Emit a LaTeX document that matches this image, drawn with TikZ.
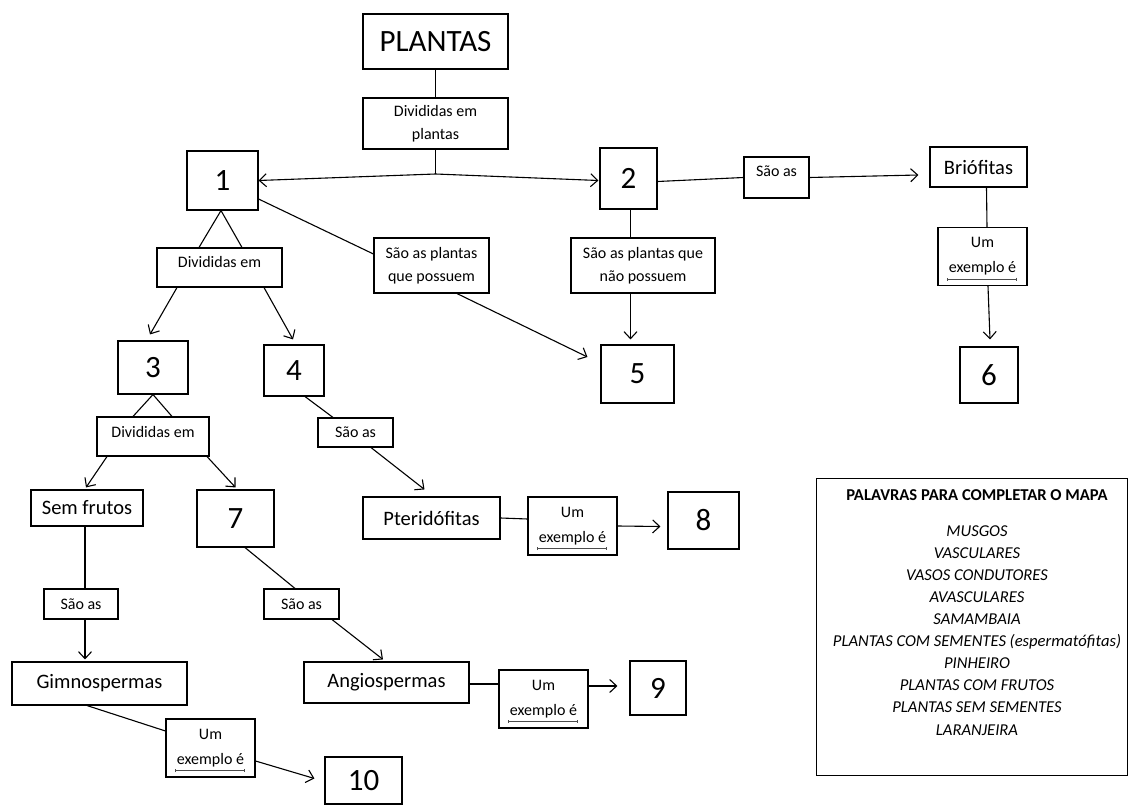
\documentclass[tikz,border=0pt]{standalone}
\usepackage{fontspec}
\setmainfont{Carlito}
\usetikzlibrary{arrows.meta}
\begin{document}
\begin{tikzpicture}[x=1pt,y=-1pt,
  box/.style={draw, line width=1.1pt, inner sep=0pt, align=center},
  big/.style={font=\fontsize{31}{31}\selectfont},
  mid/.style={font=\fontsize{20.5}{24}\selectfont},
  small/.style={font=\fontsize{16}{23}\selectfont},
  exbox/.style={box, minimum width=89pt, minimum height=58pt, font=\fontsize{16}{25}\selectfont},
  conn/.style={line width=1.1pt},
  arr/.style={conn, -{Straight Barb[length=7pt,width=13pt,line width=1.1pt]}},
  ul/.style={line width=0.6pt, black!70, {Bar[width=3pt]}-{Bar[width=3pt]}}]
\fill[white] (0,0) rectangle (1128,805);
\useasboundingbox (0,0) rectangle (1128,805);

% nodes
\node[box,big,minimum width=145pt,minimum height=55pt] (plantas) at (435.5,41.5) {PLANTAS};
\node[box,small,minimum width=145pt,minimum height=51pt] (div0) at (435.5,123.5) {Divididas em\\plantas};
\node[box,big,minimum width=71pt,minimum height=59pt] (n1) at (222.5,180.5) {1};
\node[box,big,minimum width=57pt,minimum height=61pt] (n2) at (628.5,178.5) {2};
\node[box,small,minimum width=65pt,text height=20pt,text depth=21pt] (sao2) at (776.5,177.5) {São as};
\node[box,mid,minimum width=97pt,minimum height=40pt] (brio) at (978.5,167) {Briófitas};
\node[exbox] (ex6) at (982.5,256.5) {Um\\exemplo é};
\node[box,big,minimum width=58pt,minimum height=56pt] (n6) at (989,375) {6};
\node[box,small,minimum width=144pt,minimum height=55pt] (naopos) at (643,265.5) {São as plantas que\\não possuem};
\node[box,big,minimum width=73pt,minimum height=58pt] (n5) at (637.5,374) {5};
\node[box,small,minimum width=115pt,minimum height=55pt] (possuem) at (431.5,265.5) {São as plantas\\que possuem};
\node[box,small,minimum width=125pt,text height=20pt,text depth=19pt] (div1) at (219.5,267.5) {Divididas em};
\node[box,big,minimum width=70pt,minimum height=53pt] (n3) at (153,367.5) {3};
\node[box,big,minimum width=60pt,minimum height=51pt] (n4) at (294,370.5) {4};
\node[box,small,minimum width=112pt,text height=20pt,text depth=19pt] (div2) at (153,436.5) {Divididas em};
\node[box,small,minimum width=75pt,minimum height=29pt] (sao4) at (355.5,432.5) {São as};
\node[box,mid,minimum width=112pt,minimum height=36pt] (semf) at (87,508) {Sem frutos};
\node[box,big,minimum width=77pt,minimum height=57pt] (n7) at (235.5,518.5) {7};
\node[box,mid,minimum width=137pt,minimum height=42pt] (pter) at (431.5,518) {Pteridófitas};
\node[exbox] (ex8) at (572.5,526) {Um\\exemplo é};
\node[box,big,minimum width=71pt,minimum height=57pt] (n8) at (703.5,520.5) {8};
\node[box,small,minimum width=74pt,minimum height=30pt] (saoL) at (81,604) {São as};
\node[box,small,minimum width=75pt,minimum height=30pt] (saoM) at (301.5,604) {São as};
\node[box,mid,minimum width=175pt,minimum height=43pt] (gimno) at (99.5,683.5) {Gimnospermas};
\node[box,mid,minimum width=165pt,minimum height=41pt] (angio) at (386.5,682.5) {Angiospermas};
\node[exbox] (ex9) at (543.5,699) {Um\\exemplo é};
\node[box,big,minimum width=56pt,minimum height=54pt] (n9) at (658,688) {9};
\node[exbox] (ex10) at (210.5,748) {Um\\exemplo é};
\node[box,big,minimum width=77pt,minimum height=47pt] (n10) at (363.5,780.5) {10};

% underlines in "Um exemplo é" boxes
\foreach \e in {ex6,ex8,ex9,ex10}{
  \draw[ul] ([xshift=10pt,yshift=7pt]\e.south west) -- ([xshift=-11pt,yshift=7pt]\e.south east);
}

% legend
\node[box,minimum width=311pt,minimum height=297pt,anchor=north west] (legend) at (816,478) {};
\node[anchor=north,align=center,inner sep=0pt,font=\fontsize{16.6}{22.1}\selectfont] (legtext) at (977,489)
 {\textbf{PALAVRAS PARA COMPLETAR O MAPA}\\[14pt]
  \textit{MUSGOS}\\ \textit{VASCULARES}\\ \textit{VASOS CONDUTORES}\\ \textit{AVASCULARES}\\
  \textit{SAMAMBAIA}\\ \textit{PLANTAS COM SEMENTES (espermatófitas)}\\ \textit{PINHEIRO}\\
  \textit{PLANTAS COM FRUTOS}\\ \textit{PLANTAS SEM SEMENTES}\\ \textit{LARANJEIRA}};

% connectors
\coordinate (J) at (435.5,174);
\draw[conn] (plantas.south) -- (div0.north);
\draw[conn] (div0.south) -- (J);
\draw[arr] (J) -- (n1.east);
\draw[arr] (J) -- ([xshift=-1pt,yshift=-2pt]n2.west);
\draw[conn] ([yshift=-3pt]n2.east) -- (sao2.west);
\draw[arr] (sao2.east) -- ([xshift=-11pt,yshift=-8pt]brio.west);
\draw[conn] ([xshift=8pt]brio.south) -- ([xshift=4.5pt]ex6.north);
\draw[arr] ([xshift=5.5pt]ex6.south) -- ([xshift=1pt,yshift=7pt]n6.north);
\draw[conn] ([xshift=2pt]n2.south) -- ([xshift=2pt]n2.south |- naopos.north);
\draw[arr] ([xshift=2pt]n2.south |- naopos.south) -- ([xshift=2pt,yshift=5pt]n2.south |- n5.north);
\draw[conn] ([yshift=-18.5pt]n1.east) -- ([yshift=11.5pt]possuem.west);
\draw[arr] ([xshift=25.5pt]possuem.south) -- ([xshift=-13pt,yshift=17pt]n5.west);
\draw[conn] ([xshift=-1.5pt]n1.south) -- ([xshift=-20.5pt]div1.north);
\draw[conn] ([xshift=-1.5pt]n1.south) -- ([xshift=22.5pt]div1.north);
\draw[arr] ([xshift=-42.5pt]div1.south) -- ([xshift=-3pt,yshift=6pt]n3.north);
\draw[arr] ([xshift=44.5pt]div1.south) -- ([xshift=-1pt,yshift=5pt]n4.north);
\draw[conn] (n3.south) -- ([xshift=-20pt]div2.north);
\draw[conn] (n3.south) -- ([xshift=19pt]div2.north);
\draw[arr] ([xshift=-46pt]div2.south) -- ([xshift=-1pt,yshift=2pt]semf.north);
\draw[arr] ([xshift=54pt]div2.south) -- ([yshift=2pt]n7.north);
\draw[conn] ([xshift=11pt]n4.south) -- ([xshift=-22.5pt]sao4.north);
\draw[arr] ([xshift=15.5pt]sao4.south) -- ([xshift=-7pt,yshift=7pt]pter.north);
\draw[conn] (pter.east) -- ([yshift=7pt]ex8.west);
\draw[arr] (ex8.east) -- ([xshift=-7pt,yshift=-6pt]n8.west);
\draw[conn] ([xshift=-2pt]semf.south) -- ([xshift=-2pt]semf.south |- saoL.north);
\draw[arr] ([xshift=-2pt]semf.south |- saoL.south) -- ([xshift=-2pt,yshift=2pt]semf.south |- gimno.north);
\draw[conn] ([xshift=9.5pt]n7.south) -- ([xshift=-6.5pt]saoM.north);
\draw[arr] ([xshift=30.5pt]saoM.south) -- ([xshift=-3.5pt,yshift=2pt]angio.north);
\draw[conn] ([yshift=-1.5pt]angio.east) -- ([yshift=15pt]ex9.west);
\draw[arr] ([yshift=13pt]ex9.east) -- ([xshift=-12pt,yshift=2pt]n9.west);
\draw[conn] ([xshift=-12.5pt]gimno.south) -- ([yshift=17pt]ex10.west);
\draw[arr] ([yshift=-13pt]ex10.east) -- ([xshift=-10pt,yshift=2pt]n10.west);
\end{tikzpicture}
\end{document}
